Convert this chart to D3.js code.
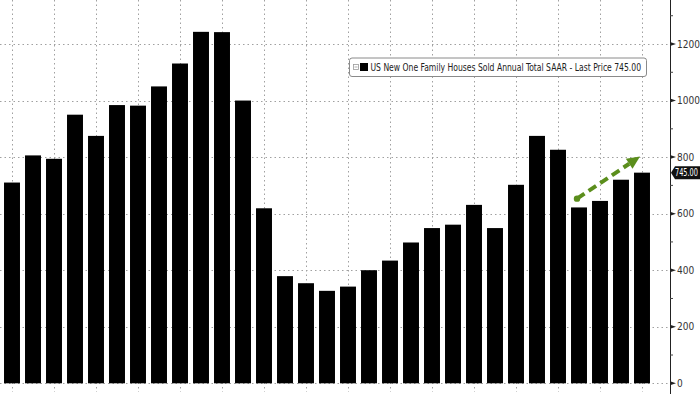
<!DOCTYPE html>
<html><head><meta charset="utf-8">
<script src="https://cdn.jsdelivr.net/npm/d3@7"></script>
<style>html,body{margin:0;padding:0;background:#fff;}svg{display:block;}</style>
</head><body>
<svg id="chart" width="700" height="394"></svg>
<script>
const years = d3.range(1994, 2025);
const sales = [710, 806, 794, 950, 875, 984, 982, 1050, 1131, 1243, 1242, 1000, 619, 379, 354, 327, 342, 400, 434, 498, 549, 561, 631, 549, 702, 875, 826, 622, 645, 720, 745];
const yTicks = [0, 200, 400, 600, 800, 1000, 1200];
const yMinorTicks = [100, 300, 500, 700, 900, 1100, 1300];
const gridYears = years.filter((d, i) => i % 2 === 0);
const arrowFrom = {year: 2021, value: 653};
const arrowTo = {year: 2024, value: 802};
const lastPrice = 745.00;
const legendText = "US New One Family Houses Sold Annual Total SAAR - Last Price 745.00";

const svg = d3.select("#chart");
const axisX = 670;
const FONT = "DejaVu Sans Condensed, DejaVu Sans, sans-serif";
const x = d3.scaleBand().domain(years).range([1.5, 652.5]).paddingInner(0.24).paddingOuter(0.12);
const y = d3.scaleLinear().domain([0, 1200]).range([383.3, 44]);
const cx = d => x(d) + x.bandwidth() / 2;

// horizontally squeeze a text so that its natural width fits a target width
function fitText(sel, target) {
  const w = sel.node().getComputedTextLength();
  const k = Math.min(1, target / w);
  const tx = +sel.attr("x");
  sel.attr("transform", `translate(${tx},0) scale(${k},1) translate(${-tx},0)`);
}

// grid
const grid = svg.append("g").attr("stroke", "#a0a0a0").attr("stroke-width", 1).attr("stroke-dasharray", "1.5,3");
grid.selectAll("line.h").data(yTicks.filter(d => d > 0)).join("line")
  .attr("x1", 0).attr("x2", axisX).attr("y1", d => Math.round(y(d)) + 0.5).attr("y2", d => Math.round(y(d)) + 0.5);
grid.selectAll("line.v").data(gridYears).join("line")
  .attr("x1", d => Math.round(cx(d)) + 0.5).attr("x2", d => Math.round(cx(d)) + 0.5).attr("y1", 0).attr("y2", 392);
grid.append("line").attr("x1", 0).attr("x2", axisX).attr("y1", Math.round(y(0)) + 0.5).attr("y2", Math.round(y(0)) + 0.5);

// bars
svg.append("g").selectAll("rect").data(years).join("rect")
  .attr("x", d => x(d)).attr("width", x.bandwidth())
  .attr("y", (d, i) => y(sales[i])).attr("height", (d, i) => y(0) - y(sales[i]))
  .attr("fill", "#000");

// right axis
const ax = svg.append("g").attr("transform", `translate(${axisX},0)`);
ax.append("line").attr("x1", 0.5).attr("x2", 0.5).attr("y1", 0).attr("y2", 394).attr("stroke", "#222").attr("stroke-width", 1);
ax.selectAll("line.minor").data(yMinorTicks).join("line")
  .attr("x1", 0).attr("x2", 3).attr("y1", d => y(d)).attr("y2", d => y(d)).attr("stroke", "#444");
ax.selectAll("path.major").data(yTicks).join("path")
  .attr("d", d => `M0,${y(d) - 2}L6,${y(d)}L0,${y(d) + 2}Z`).attr("fill", "#222");
ax.selectAll("text.tick").data(yTicks).join("text")
  .attr("x", 7).attr("y", d => y(d)).attr("dy", "0.35em")
  .attr("font-family", FONT).attr("font-size", 10).attr("fill", "#333")
  .text(d => d);

// last price tag
const ly = y(lastPrice);
ax.append("path").attr("d", `M1,${ly}L5,${ly - 6.5}L30,${ly - 6.5}L30,${ly + 6.5}L5,${ly + 6.5}Z`).attr("fill", "#111");
const tag = ax.append("text").attr("x", 5).attr("y", ly).attr("dy", "0.36em")
  .attr("font-family", FONT).attr("font-size", 10).attr("fill", "#fff")
  .text(lastPrice.toFixed(2));
fitText(tag, 23);

// legend
const lg = svg.append("g").attr("transform", "translate(349,57.5)");
lg.append("rect").attr("x", 0.5).attr("y", 0.5).attr("width", 297).attr("height", 18.5).attr("rx", 2.5)
  .attr("fill", "#fff").attr("stroke", "#8a8a8a");
lg.append("rect").attr("x", 4.5).attr("y", 7).attr("width", 5).attr("height", 5).attr("fill", "none").attr("stroke", "#999").attr("stroke-width", 0.8);
lg.append("line").attr("x1", 5.5).attr("x2", 8.5).attr("y1", 9.5).attr("y2", 9.5).attr("stroke", "#999").attr("stroke-width", 0.8);
lg.append("rect").attr("x", 11).attr("y", 5.5).attr("width", 8).attr("height", 8).attr("fill", "#000");
const lt = lg.append("text").attr("x", 21.5).attr("y", 10).attr("dy", "0.35em")
  .attr("font-family", FONT).attr("font-size", 10.5).attr("fill", "#222")
  .text(legendText);
fitText(lt, 271);

// green dashed arrow
const green = "#5b8e1c";
const x1 = cx(arrowFrom.year) - 2, y1 = y(arrowFrom.value);
const x2 = cx(arrowTo.year) - 2, y2 = y(arrowTo.value);
const ang = Math.atan2(y2 - y1, x2 - x1);
const headLen = 13, headW = 6;
const bx = x2 - headLen * Math.cos(ang), by = y2 - headLen * Math.sin(ang);
svg.append("line").attr("x1", x1).attr("y1", y1).attr("x2", bx).attr("y2", by)
  .attr("stroke", green).attr("stroke-width", 4).attr("stroke-dasharray", "9,5");
svg.append("circle").attr("cx", x1).attr("cy", y1).attr("r", 3.2).attr("fill", green);
const px = -Math.sin(ang), py = Math.cos(ang);
svg.append("path").attr("d", `M${x2},${y2}L${bx + px * headW},${by + py * headW}L${bx - px * headW},${by - py * headW}Z`).attr("fill", green);
</script>
</body></html>
